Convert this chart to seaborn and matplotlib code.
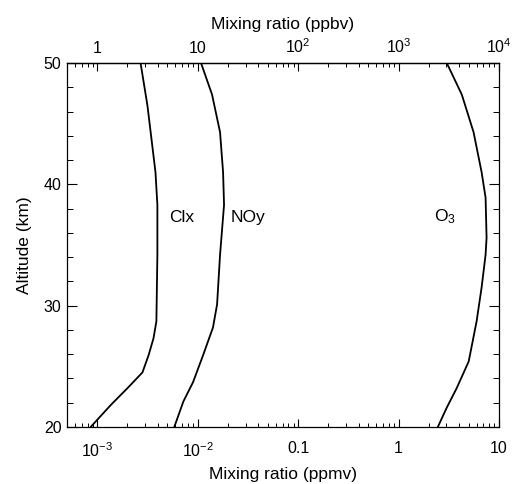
import numpy as np
import pandas as pd
import seaborn as sns
import matplotlib
matplotlib.use('Agg')
import matplotlib.pyplot as plt
from matplotlib.ticker import FixedLocator, LogLocator, NullFormatter, MultipleLocator

# profiles (ppmv vs km)
clx_alt = [20.0, 21.8, 23.2, 24.5, 25.9, 27.3, 28.7, 34.2, 38.3, 41.0, 43.8, 46.5, 50.0]
clx_val = [8.6e-4, 1.36e-3, 2.0e-3, 2.82e-3, 3.24e-3, 3.63e-3, 3.88e-3, 3.97e-3, 3.97e-3, 3.80e-3, 3.46e-3, 3.16e-3, 2.70e-3]

noy_alt = [20.0, 22.1, 23.7, 25.9, 28.2, 30.1, 34.2, 38.3, 41.0, 44.3, 47.4, 50.0]
noy_val = [5.85e-3, 7.2e-3, 9.0e-3, 1.13e-2, 1.42e-2, 1.56e-2, 1.67e-2, 1.83e-2, 1.79e-2, 1.67e-2, 1.39e-2, 1.08e-2]

o3_alt = [20.0, 21.6, 23.2, 25.4, 28.7, 31.5, 34.2, 35.6, 38.9, 41.0, 44.3, 47.4, 50.0]
o3_val = [2.46, 3.02, 3.79, 4.99, 5.98, 6.71, 7.35, 7.52, 7.35, 6.71, 5.58, 4.26, 3.02]

species = ['Clx', 'NOy', 'O$_3$']
label_pos = [(7.0e-3, 37.3), (3.16e-2, 37.3), (2.9, 37.3)]

bottom_ticks = [1e-3, 1e-2, 0.1, 1, 10]
bottom_labels = [r'$\mathregular{10^{-3}}$', r'$\mathregular{10^{-2}}$', '0.1', '1', '10']
top_ticks = [1, 10, 100, 1000, 10000]
top_labels = ['1', '10', r'$\mathregular{10^2}$', r'$\mathregular{10^3}$', r'$\mathregular{10^4}$']

sns.set_style('ticks')
plt.rcParams['font.family'] = ['Liberation Sans', 'DejaVu Sans']
plt.rcParams['mathtext.fontset'] = 'custom'
plt.rcParams['mathtext.rm'] = 'Liberation Sans'
plt.rcParams['mathtext.it'] = 'Liberation Sans:italic'
plt.rcParams['text.color'] = 'black'
plt.rcParams['axes.labelcolor'] = 'black'
plt.rcParams['xtick.color'] = 'black'
plt.rcParams['ytick.color'] = 'black'
plt.rcParams['axes.edgecolor'] = 'black'

df = pd.concat([
    pd.DataFrame({'alt': clx_alt, 'mr': clx_val, 'sp': 'Clx'}),
    pd.DataFrame({'alt': noy_alt, 'mr': noy_val, 'sp': 'NOy'}),
    pd.DataFrame({'alt': o3_alt, 'mr': o3_val, 'sp': 'O3'}),
])

fig = plt.figure(figsize=(5.21, 4.84), dpi=100)
ax = fig.add_axes([0.1286, 0.1178, 0.8292, 0.752])

sns.lineplot(data=df, x='mr', y='alt', units='sp', estimator=None, sort=False,
             color='black', lw=1.3, ax=ax)

ax.set_xscale('log')
ax.set_xlim(5e-4, 10)
ax.set_ylim(20, 50)

for name, (x, y) in zip(species, label_pos):
    ax.text(x, y, name, ha='center', va='center', fontsize=12.5)

ax.xaxis.set_major_locator(FixedLocator(bottom_ticks))
ax.set_xticklabels(bottom_labels)
ax.xaxis.set_minor_locator(LogLocator(base=10, subs=np.arange(2, 10)))
ax.xaxis.set_minor_formatter(NullFormatter())
ax.yaxis.set_major_locator(FixedLocator([20, 30, 40, 50]))
ax.yaxis.set_minor_locator(MultipleLocator(2))

ax.tick_params(axis='x', which='major', direction='in', length=6, width=0.8, labelsize=11.5, pad=10)
ax.tick_params(axis='x', which='minor', direction='in', length=3, width=0.7)
ax.tick_params(axis='y', which='major', direction='in', length=7, width=0.8, labelsize=11.5,
               right=True, pad=4)
ax.tick_params(axis='y', which='minor', direction='in', length=4.5, width=0.7, right=True)

ax.set_xlabel('Mixing ratio (ppmv)', fontsize=12.5, labelpad=5)
ax.set_ylabel('Altitude (km)', fontsize=12.5, labelpad=8)

top = ax.secondary_xaxis('top', functions=(lambda v: v * 1e3, lambda v: v / 1e3))
top.xaxis.set_major_locator(FixedLocator(top_ticks))
top.set_xticklabels(top_labels)
top.xaxis.set_minor_locator(LogLocator(base=10, subs=np.arange(2, 10)))
top.xaxis.set_minor_formatter(NullFormatter())
top.tick_params(axis='x', which='major', direction='in', length=6, width=0.8, labelsize=11.5, pad=5)
top.tick_params(axis='x', which='minor', direction='in', length=3, width=0.7)
top.set_xlabel('Mixing ratio (ppbv)', fontsize=12.5, labelpad=6)

for s in ax.spines.values():
    s.set_linewidth(0.9)
top.spines['top'].set_linewidth(0.9)

fig.savefig('out.png', dpi=100, facecolor='white')
